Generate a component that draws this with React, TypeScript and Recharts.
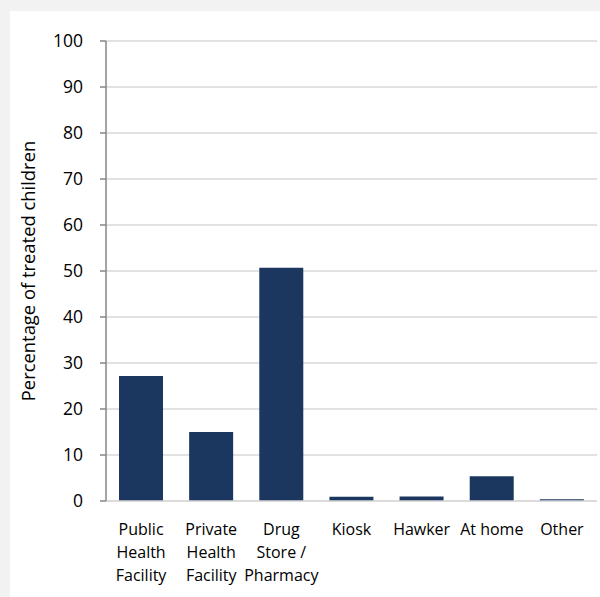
import * as React from "react";
import { BarChart, Bar, XAxis, YAxis, CartesianGrid } from "recharts";

const categories = [
  "Public Health Facility",
  "Private Health Facility",
  "Drug Store / Pharmacy",
  "Kiosk",
  "Hawker",
  "At home",
  "Other",
];
const tickLines = [
  ["Public", "Health", "Facility"],
  ["Private", "Health", "Facility"],
  ["Drug", "Store /", "Pharmacy"],
  ["Kiosk"],
  ["Hawker"],
  ["At home"],
  ["Other"],
];
const percentTreated = [27.2, 15.0, 50.7, 0.9, 1.0, 5.4, 0.4];
const yTicks = [0, 10, 20, 30, 40, 50, 60, 70, 80, 90, 100];

const data = categories.map((name, i) => ({ name, value: percentTreated[i], idx: i }));

const FONT = "'Open Sans', sans-serif";

function CategoryTick(props: any) {
  const { x, y, index } = props;
  const lines = tickLines[index] || [];
  return (
    <text x={x} y={y + 34} textAnchor="middle" fontFamily={FONT} fontSize={16} fill="#000">
      {lines.map((l, i) => (
        <tspan key={i} x={x} dy={i === 0 ? 0 : 23}>
          {l}
        </tspan>
      ))}
    </text>
  );
}

export default function App() {
  return (
    <div
      style={{
        position: "fixed",
        left: 0,
        top: 0,
        width: 600,
        height: 597,
        background: "#f2f2f2",
      }}
    >
      <div style={{ position: "absolute", left: 10, top: 11, width: 590, height: 586, background: "#fff" }}>
        <BarChart
          width={590}
          height={586}
          data={data}
          margin={{ top: 30, right: 3, left: 0, bottom: 0 }}
        >
          <CartesianGrid vertical={false} stroke="#d9d9d9" strokeWidth={1.5} />
          <XAxis
            dataKey="name"
            interval={0}
            height={96}
            tickLine={false}
            tickSize={0}
            tickMargin={0}
            stroke="#d9d9d9"
            strokeWidth={1.5}
            tick={<CategoryTick />}
          />
          <YAxis
            width={96}
            domain={[0, 100]}
            ticks={yTicks}
            interval={0}
            stroke="#868686"
            strokeWidth={1.5}
            tickSize={6}
            tickMargin={17}
            tick={{ fill: "#000", fontSize: 17.5, fontFamily: FONT }}
            label={{
              value: "Percentage of treated children",
              angle: -90,
              position: "insideLeft",
              offset: 18,
              style: { textAnchor: "middle", fontFamily: FONT, fontSize: 18.4, fill: "#000" },
            }}
          />
          <Bar dataKey="value" fill="#1b375f" barSize={44} isAnimationActive={false} />
        </BarChart>
      </div>
    </div>
  );
}
